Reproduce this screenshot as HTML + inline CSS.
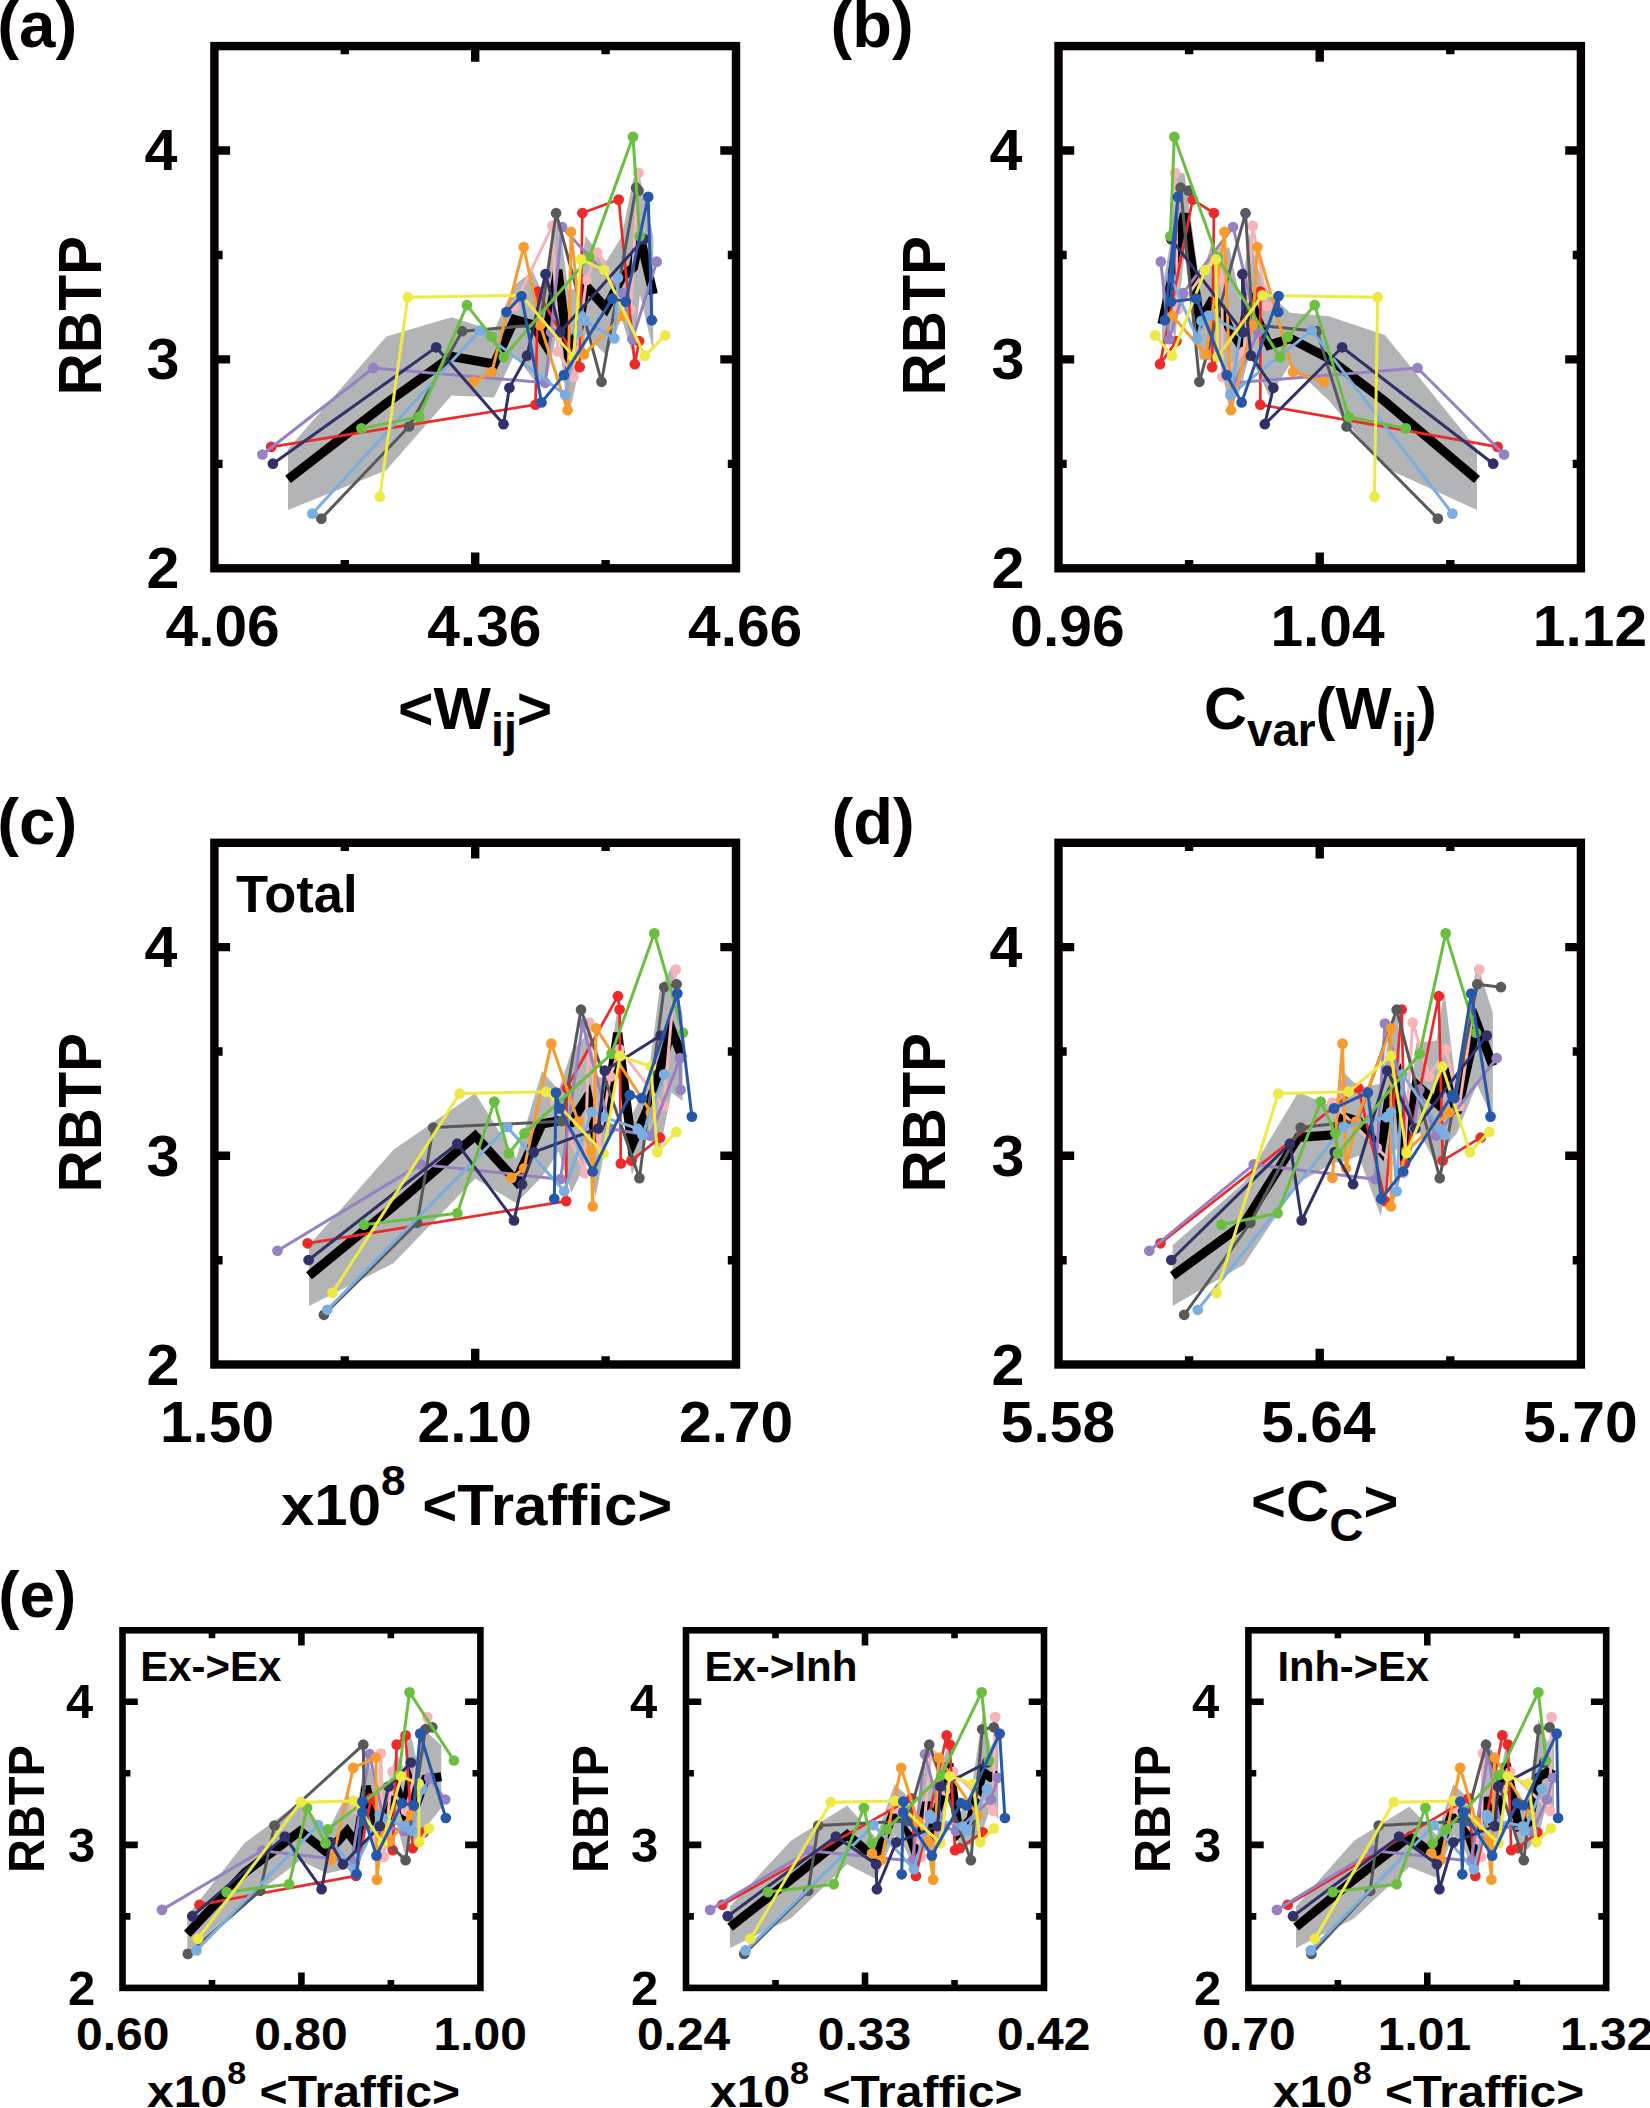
<!DOCTYPE html>
<html lang="en"><head><meta charset="utf-8"><title>RBTP figure</title>
<style>html,body{margin:0;padding:0;background:#fff}svg{display:block}text{font-family:"Liberation Sans",Arial,Helvetica,sans-serif;font-weight:700;fill:#040000}</style>
</head><body>
<svg width="1650" height="2108" viewBox="0 0 1650 2108">
<rect width="1650" height="2108" fill="#fff"/>
<g id="p_a">
<polygon points="288,449 386.3,336.4 451.6,317.3 494.1,330.7 514.6,284.7 532.8,270.9 544.7,298 557.8,210.8 568.3,290.2 578.5,288.3 585.4,236 606,261.5 621.6,236.8 633.4,178.4 639.9,177.5 653.3,236.2 653.3,351.7 639.9,294.5 633.4,356.7 621.6,318.6 606,355.2 585.4,334.2 578.5,372.2 568.3,417.4 557.8,329.1 544.7,388.7 532.8,378.6 514.6,354.2 494.1,397.6 451.6,395.5 386.3,470.2 288,509.9" fill="#b3b4b6"/>
<polyline points="288,479.4 386.3,403.3 451.6,356.4 494.1,364.1 514.6,319.5 532.8,324.7 544.7,343.4 557.8,269.9 568.3,353.8 578.5,330.3 585.4,285.1 606,308.3 621.6,277.7 633.4,267.5 639.9,236 653.3,294" fill="none" stroke="#040000" stroke-width="9.2" stroke-linejoin="miter" stroke-miterlimit="4"/>
<g fill="#f7b3b8" stroke="#f7b3b8">
<polyline points="514,306.2 552.4,225.9 557.9,351.5 573.6,377 586.4,280 597.3,252.7 630.6,309.7 638.5,172.9" fill="none" stroke-width="3.0" stroke-linejoin="round"/>
<circle cx="514" cy="306.2" r="5.35" stroke="none"/><circle cx="552.4" cy="225.9" r="5.35" stroke="none"/><circle cx="557.9" cy="351.5" r="5.35" stroke="none"/><circle cx="573.6" cy="377" r="5.35" stroke="none"/><circle cx="586.4" cy="280" r="5.35" stroke="none"/><circle cx="597.3" cy="252.7" r="5.35" stroke="none"/><circle cx="630.6" cy="309.7" r="5.35" stroke="none"/><circle cx="638.5" cy="172.9" r="5.35" stroke="none"/>
</g>
<g fill="#ed2a2a" stroke="#ed2a2a">
<polyline points="271.2,446.9 535.5,404.7 537.9,291.5 579.7,367.1 582.4,213 618.7,199.6 634.8,364.2 639.1,341.2" fill="none" stroke-width="2.7" stroke-linejoin="round"/>
<circle cx="271.2" cy="446.9" r="5.35" stroke="none"/><circle cx="535.5" cy="404.7" r="5.35" stroke="none"/><circle cx="537.9" cy="291.5" r="5.35" stroke="none"/><circle cx="579.7" cy="367.1" r="5.35" stroke="none"/><circle cx="582.4" cy="213" r="5.35" stroke="none"/><circle cx="618.7" cy="199.6" r="5.35" stroke="none"/><circle cx="634.8" cy="364.2" r="5.35" stroke="none"/><circle cx="639.1" cy="341.2" r="5.35" stroke="none"/>
</g>
<g fill="#9682c2" stroke="#9682c2">
<polyline points="262.4,454.5 373.4,368 545.2,382.8 551,332.3 562.1,227 622.7,293.2 632.4,339.2 656.7,261.7" fill="none" stroke-width="3.0" stroke-linejoin="round"/>
<circle cx="262.4" cy="454.5" r="5.35" stroke="none"/><circle cx="373.4" cy="368" r="5.35" stroke="none"/><circle cx="545.2" cy="382.8" r="5.35" stroke="none"/><circle cx="551" cy="332.3" r="5.35" stroke="none"/><circle cx="562.1" cy="227" r="5.35" stroke="none"/><circle cx="622.7" cy="293.2" r="5.35" stroke="none"/><circle cx="632.4" cy="339.2" r="5.35" stroke="none"/><circle cx="656.7" cy="261.7" r="5.35" stroke="none"/>
</g>
<g fill="#58595b" stroke="#58595b">
<polyline points="321.3,518.6 409,426.5 462.1,331.2 540,324.7 556.1,213.2 601.5,381.8 636.1,187.7 638.5,190.6" fill="none" stroke-width="3.0" stroke-linejoin="round"/>
<circle cx="321.3" cy="518.6" r="5.35" stroke="none"/><circle cx="409" cy="426.5" r="5.35" stroke="none"/><circle cx="462.1" cy="331.2" r="5.35" stroke="none"/><circle cx="540" cy="324.7" r="5.35" stroke="none"/><circle cx="556.1" cy="213.2" r="5.35" stroke="none"/><circle cx="601.5" cy="381.8" r="5.35" stroke="none"/><circle cx="636.1" cy="187.7" r="5.35" stroke="none"/><circle cx="638.5" cy="190.6" r="5.35" stroke="none"/>
</g>
<g fill="#f89b2e" stroke="#f89b2e">
<polyline points="473.7,381.6 491.8,372 523.7,247 540.3,325.2 567.6,410.2 571,231.8 583.9,354.4 622.7,316" fill="none" stroke-width="3.0" stroke-linejoin="round"/>
<circle cx="473.7" cy="381.6" r="5.35" stroke="none"/><circle cx="491.8" cy="372" r="5.35" stroke="none"/><circle cx="523.7" cy="247" r="5.35" stroke="none"/><circle cx="540.3" cy="325.2" r="5.35" stroke="none"/><circle cx="567.6" cy="410.2" r="5.35" stroke="none"/><circle cx="571" cy="231.8" r="5.35" stroke="none"/><circle cx="583.9" cy="354.4" r="5.35" stroke="none"/><circle cx="622.7" cy="316" r="5.35" stroke="none"/>
</g>
<g fill="#7aaee0" stroke="#7aaee0">
<polyline points="312.4,513.6 479.9,330.6 565.2,394.9 577.4,332.3 580.8,315.6 584.7,320.8 614.4,338.5 618,278" fill="none" stroke-width="3.0" stroke-linejoin="round"/>
<circle cx="312.4" cy="513.6" r="5.35" stroke="none"/><circle cx="479.9" cy="330.6" r="5.35" stroke="none"/><circle cx="565.2" cy="394.9" r="5.35" stroke="none"/><circle cx="577.4" cy="332.3" r="5.35" stroke="none"/><circle cx="580.8" cy="315.6" r="5.35" stroke="none"/><circle cx="584.7" cy="320.8" r="5.35" stroke="none"/><circle cx="614.4" cy="338.5" r="5.35" stroke="none"/><circle cx="618" cy="278" r="5.35" stroke="none"/>
</g>
<g fill="#303267" stroke="#303267">
<polyline points="272.9,463.7 436.2,347.3 503.5,424.2 509.4,387.8 527,355.7 545.5,274.2 560.3,332.1 643.8,239.1" fill="none" stroke-width="3.0" stroke-linejoin="round"/>
<circle cx="272.9" cy="463.7" r="5.35" stroke="none"/><circle cx="436.2" cy="347.3" r="5.35" stroke="none"/><circle cx="503.5" cy="424.2" r="5.35" stroke="none"/><circle cx="509.4" cy="387.8" r="5.35" stroke="none"/><circle cx="527" cy="355.7" r="5.35" stroke="none"/><circle cx="545.5" cy="274.2" r="5.35" stroke="none"/><circle cx="560.3" cy="332.1" r="5.35" stroke="none"/><circle cx="643.8" cy="239.1" r="5.35" stroke="none"/>
</g>
<g fill="#6abf40" stroke="#6abf40">
<polyline points="361.5,428.4 419.2,416.9 466.9,305.1 491.8,336.9 503.7,357.1 589.4,257.3 633,136.8 639.7,236.2" fill="none" stroke-width="3.0" stroke-linejoin="round"/>
<circle cx="361.5" cy="428.4" r="5.35" stroke="none"/><circle cx="419.2" cy="416.9" r="5.35" stroke="none"/><circle cx="466.9" cy="305.1" r="5.35" stroke="none"/><circle cx="491.8" cy="336.9" r="5.35" stroke="none"/><circle cx="503.7" cy="357.1" r="5.35" stroke="none"/><circle cx="589.4" cy="257.3" r="5.35" stroke="none"/><circle cx="633" cy="136.8" r="5.35" stroke="none"/><circle cx="639.7" cy="236.2" r="5.35" stroke="none"/>
</g>
<g fill="#eeea45" stroke="#eeea45">
<polyline points="379.8,496.7 407.8,297.2 521.5,295.3 573.6,356.9 580.9,259.4 604.3,270 644.8,355.7 665.2,335.4" fill="none" stroke-width="3.0" stroke-linejoin="round"/>
<circle cx="379.8" cy="496.7" r="5.35" stroke="none"/><circle cx="407.8" cy="297.2" r="5.35" stroke="none"/><circle cx="521.5" cy="295.3" r="5.35" stroke="none"/><circle cx="573.6" cy="356.9" r="5.35" stroke="none"/><circle cx="580.9" cy="259.4" r="5.35" stroke="none"/><circle cx="604.3" cy="270" r="5.35" stroke="none"/><circle cx="644.8" cy="355.7" r="5.35" stroke="none"/><circle cx="665.2" cy="335.4" r="5.35" stroke="none"/>
</g>
<g fill="#2657a8" stroke="#2657a8">
<polyline points="506.4,312 521.5,296.1 541.5,402.4 563.9,375.1 612.4,298.6 625.8,301.8 648.2,196.9 651.8,320.2" fill="none" stroke-width="3.0" stroke-linejoin="round"/>
<circle cx="506.4" cy="312" r="5.35" stroke="none"/><circle cx="521.5" cy="296.1" r="5.35" stroke="none"/><circle cx="541.5" cy="402.4" r="5.35" stroke="none"/><circle cx="563.9" cy="375.1" r="5.35" stroke="none"/><circle cx="612.4" cy="298.6" r="5.35" stroke="none"/><circle cx="625.8" cy="301.8" r="5.35" stroke="none"/><circle cx="648.2" cy="196.9" r="5.35" stroke="none"/><circle cx="651.8" cy="320.2" r="5.35" stroke="none"/>
</g>
<rect x="214.4" y="46.1" width="521.6" height="522.2" fill="none" stroke="#040000" stroke-width="8.4"/>
<path d="M344.8 46.1v8.2M344.8 568.3v-8.2M475.2 46.1v15.7M475.2 568.3v-15.7M605.6 46.1v8.2M605.6 568.3v-8.2M214.4 463.9h8.2M736 463.9h-8.2M214.4 359.4h15.7M736 359.4h-15.7M214.4 255h8.2M736 255h-8.2M214.4 150.5h15.7M736 150.5h-15.7" stroke="#040000" stroke-width="8.4" fill="none"/>
</g>
<g id="p_b">
<polygon points="1162,289.8 1171.1,237.9 1175.2,171.8 1184.5,173.6 1199.9,284.3 1211.3,243.7 1219.4,252.8 1229.1,246.7 1240.4,299.9 1249.2,232.2 1257.8,268.2 1269.2,293.8 1290.2,312.7 1328.8,316.2 1384.9,335 1477,449 1477,509.9 1384.9,467.8 1328.8,400.5 1290.2,364.3 1269.2,396.4 1257.8,372.1 1249.2,356.2 1240.4,389.6 1229.1,408.9 1219.4,356.8 1211.3,360.1 1199.9,359.6 1184.5,253.6 1175.2,338.8 1171.1,326.3 1162,358.4" fill="#b3b4b6"/>
<polyline points="1162,324.1 1171.1,282.1 1175.2,255.3 1184.5,213.6 1199.9,321.9 1211.3,301.9 1219.4,304.8 1229.1,327.8 1240.4,344.8 1249.2,294.2 1257.8,320.2 1269.2,345.1 1290.2,338.5 1328.8,358.3 1384.9,401.4 1477,479.4" fill="none" stroke="#040000" stroke-width="9.2" stroke-linejoin="miter" stroke-miterlimit="4"/>
<g fill="#f7b3b8" stroke="#f7b3b8">
<polyline points="1267.3,306.2 1252.7,225.9 1244,351.5 1222.4,377 1222,280 1218,252.7 1177.6,309.7 1175.2,172.9" fill="none" stroke-width="3.0" stroke-linejoin="round"/>
<circle cx="1267.3" cy="306.2" r="5.35" stroke="none"/><circle cx="1252.7" cy="225.9" r="5.35" stroke="none"/><circle cx="1244" cy="351.5" r="5.35" stroke="none"/><circle cx="1222.4" cy="377" r="5.35" stroke="none"/><circle cx="1222" cy="280" r="5.35" stroke="none"/><circle cx="1218" cy="252.7" r="5.35" stroke="none"/><circle cx="1177.6" cy="309.7" r="5.35" stroke="none"/><circle cx="1175.2" cy="172.9" r="5.35" stroke="none"/>
</g>
<g fill="#ed2a2a" stroke="#ed2a2a">
<polyline points="1497.6,446.9 1260.3,404.7 1260.4,291.5 1212.1,367.1 1213.9,213 1192.7,199.6 1160,364.2 1176.4,341.2" fill="none" stroke-width="2.7" stroke-linejoin="round"/>
<circle cx="1497.6" cy="446.9" r="5.35" stroke="none"/><circle cx="1260.3" cy="404.7" r="5.35" stroke="none"/><circle cx="1260.4" cy="291.5" r="5.35" stroke="none"/><circle cx="1212.1" cy="367.1" r="5.35" stroke="none"/><circle cx="1213.9" cy="213" r="5.35" stroke="none"/><circle cx="1192.7" cy="199.6" r="5.35" stroke="none"/><circle cx="1160" cy="364.2" r="5.35" stroke="none"/><circle cx="1176.4" cy="341.2" r="5.35" stroke="none"/>
</g>
<g fill="#9682c2" stroke="#9682c2">
<polyline points="1504,454.5 1417.5,368 1234.5,382.8 1258.2,332.3 1233.1,227 1183,293.2 1169.1,339.2 1160.8,261.7" fill="none" stroke-width="3.0" stroke-linejoin="round"/>
<circle cx="1504" cy="454.5" r="5.35" stroke="none"/><circle cx="1417.5" cy="368" r="5.35" stroke="none"/><circle cx="1234.5" cy="382.8" r="5.35" stroke="none"/><circle cx="1258.2" cy="332.3" r="5.35" stroke="none"/><circle cx="1233.1" cy="227" r="5.35" stroke="none"/><circle cx="1183" cy="293.2" r="5.35" stroke="none"/><circle cx="1169.1" cy="339.2" r="5.35" stroke="none"/><circle cx="1160.8" cy="261.7" r="5.35" stroke="none"/>
</g>
<g fill="#58595b" stroke="#58595b">
<polyline points="1437.8,518.6 1346.5,426.5 1317,331.2 1252.7,324.7 1245.5,213.2 1199.4,381.8 1180.6,187.7 1188.5,190.6" fill="none" stroke-width="3.0" stroke-linejoin="round"/>
<circle cx="1437.8" cy="518.6" r="5.35" stroke="none"/><circle cx="1346.5" cy="426.5" r="5.35" stroke="none"/><circle cx="1317" cy="331.2" r="5.35" stroke="none"/><circle cx="1252.7" cy="324.7" r="5.35" stroke="none"/><circle cx="1245.5" cy="213.2" r="5.35" stroke="none"/><circle cx="1199.4" cy="381.8" r="5.35" stroke="none"/><circle cx="1180.6" cy="187.7" r="5.35" stroke="none"/><circle cx="1188.5" cy="190.6" r="5.35" stroke="none"/>
</g>
<g fill="#f89b2e" stroke="#f89b2e">
<polyline points="1323.8,381.6 1293.1,372 1257.3,247 1252.7,325.2 1230.9,410.2 1224.5,231.8 1206.1,354.4 1172.5,316" fill="none" stroke-width="3.0" stroke-linejoin="round"/>
<circle cx="1323.8" cy="381.6" r="5.35" stroke="none"/><circle cx="1293.1" cy="372" r="5.35" stroke="none"/><circle cx="1257.3" cy="247" r="5.35" stroke="none"/><circle cx="1252.7" cy="325.2" r="5.35" stroke="none"/><circle cx="1230.9" cy="410.2" r="5.35" stroke="none"/><circle cx="1224.5" cy="231.8" r="5.35" stroke="none"/><circle cx="1206.1" cy="354.4" r="5.35" stroke="none"/><circle cx="1172.5" cy="316" r="5.35" stroke="none"/>
</g>
<g fill="#7aaee0" stroke="#7aaee0">
<polyline points="1452.4,513.6 1311.8,330.6 1230.3,394.9 1240.7,332.3 1208.6,315.6 1201.4,320.8 1197.2,338.5 1170.9,278" fill="none" stroke-width="3.0" stroke-linejoin="round"/>
<circle cx="1452.4" cy="513.6" r="5.35" stroke="none"/><circle cx="1311.8" cy="330.6" r="5.35" stroke="none"/><circle cx="1230.3" cy="394.9" r="5.35" stroke="none"/><circle cx="1240.7" cy="332.3" r="5.35" stroke="none"/><circle cx="1208.6" cy="315.6" r="5.35" stroke="none"/><circle cx="1201.4" cy="320.8" r="5.35" stroke="none"/><circle cx="1197.2" cy="338.5" r="5.35" stroke="none"/><circle cx="1170.9" cy="278" r="5.35" stroke="none"/>
</g>
<g fill="#303267" stroke="#303267">
<polyline points="1493.2,463.7 1342.1,347.3 1264.8,424.2 1273.4,387.8 1250.9,355.7 1242.4,274.2 1243,332.1 1171.2,239.1" fill="none" stroke-width="3.0" stroke-linejoin="round"/>
<circle cx="1493.2" cy="463.7" r="5.35" stroke="none"/><circle cx="1342.1" cy="347.3" r="5.35" stroke="none"/><circle cx="1264.8" cy="424.2" r="5.35" stroke="none"/><circle cx="1273.4" cy="387.8" r="5.35" stroke="none"/><circle cx="1250.9" cy="355.7" r="5.35" stroke="none"/><circle cx="1242.4" cy="274.2" r="5.35" stroke="none"/><circle cx="1243" cy="332.1" r="5.35" stroke="none"/><circle cx="1171.2" cy="239.1" r="5.35" stroke="none"/>
</g>
<g fill="#6abf40" stroke="#6abf40">
<polyline points="1405.9,428.4 1348.9,416.9 1314.7,305.1 1287.7,336.9 1280,357.1 1217.2,257.3 1174.3,136.8 1170.3,236.2" fill="none" stroke-width="3.0" stroke-linejoin="round"/>
<circle cx="1405.9" cy="428.4" r="5.35" stroke="none"/><circle cx="1348.9" cy="416.9" r="5.35" stroke="none"/><circle cx="1314.7" cy="305.1" r="5.35" stroke="none"/><circle cx="1287.7" cy="336.9" r="5.35" stroke="none"/><circle cx="1280" cy="357.1" r="5.35" stroke="none"/><circle cx="1217.2" cy="257.3" r="5.35" stroke="none"/><circle cx="1174.3" cy="136.8" r="5.35" stroke="none"/><circle cx="1170.3" cy="236.2" r="5.35" stroke="none"/>
</g>
<g fill="#eeea45" stroke="#eeea45">
<polyline points="1374.4,496.7 1377.7,297.2 1262.4,295.3 1217.6,356.9 1215.8,259.4 1205.3,270 1172.1,355.7 1155.2,335.4" fill="none" stroke-width="3.0" stroke-linejoin="round"/>
<circle cx="1374.4" cy="496.7" r="5.35" stroke="none"/><circle cx="1377.7" cy="297.2" r="5.35" stroke="none"/><circle cx="1262.4" cy="295.3" r="5.35" stroke="none"/><circle cx="1217.6" cy="356.9" r="5.35" stroke="none"/><circle cx="1215.8" cy="259.4" r="5.35" stroke="none"/><circle cx="1205.3" cy="270" r="5.35" stroke="none"/><circle cx="1172.1" cy="355.7" r="5.35" stroke="none"/><circle cx="1155.2" cy="335.4" r="5.35" stroke="none"/>
</g>
<g fill="#2657a8" stroke="#2657a8">
<polyline points="1278.2,312 1278.5,296.1 1241.6,402.4 1226.7,375.1 1196.4,298.6 1170.9,301.8 1177.9,196.9 1164.8,320.2" fill="none" stroke-width="3.0" stroke-linejoin="round"/>
<circle cx="1278.2" cy="312" r="5.35" stroke="none"/><circle cx="1278.5" cy="296.1" r="5.35" stroke="none"/><circle cx="1241.6" cy="402.4" r="5.35" stroke="none"/><circle cx="1226.7" cy="375.1" r="5.35" stroke="none"/><circle cx="1196.4" cy="298.6" r="5.35" stroke="none"/><circle cx="1170.9" cy="301.8" r="5.35" stroke="none"/><circle cx="1177.9" cy="196.9" r="5.35" stroke="none"/><circle cx="1164.8" cy="320.2" r="5.35" stroke="none"/>
</g>
<rect x="1058.5" y="46.1" width="522.4" height="522.2" fill="none" stroke="#040000" stroke-width="8.4"/>
<path d="M1189.1 46.1v8.2M1189.1 568.3v-8.2M1319.7 46.1v15.7M1319.7 568.3v-15.7M1450.3 46.1v8.2M1450.3 568.3v-8.2M1058.5 463.9h8.2M1580.9 463.9h-8.2M1058.5 359.4h15.7M1580.9 359.4h-15.7M1058.5 255h8.2M1580.9 255h-8.2M1058.5 150.5h15.7M1580.9 150.5h-15.7" stroke="#040000" stroke-width="8.4" fill="none"/>
</g>
<g id="p_c">
<polygon points="309,1245.3 393.5,1149.8 475.2,1093.2 516.1,1158.6 542,1071 558.6,1090.2 571.3,1051.9 587.8,1033.3 595.6,1076.5 606.5,1077.8 617.7,1007.9 631.8,1115.4 647.3,1083.8 659.2,992.4 671.4,966.3 682.6,1015.1 682.6,1101.1 671.4,1092.6 659.2,1153.5 647.3,1135.3 631.8,1175 617.7,1057.9 606.5,1140.7 595.6,1196.6 587.8,1159.5 571.3,1192.8 558.6,1151.4 542,1176.8 516.1,1203.2 475.2,1178.4 393.5,1263.2 309,1306.1" fill="#b3b4b6"/>
<polyline points="309,1275.7 393.5,1206.5 475.2,1135.8 516.1,1180.9 542,1123.9 558.6,1120.8 571.3,1122.3 587.8,1096.4 595.6,1136.5 606.5,1109.3 617.7,1032.9 631.8,1145.2 647.3,1109.5 659.2,1073 671.4,1029.4 682.6,1058.1" fill="none" stroke="#040000" stroke-width="9.2" stroke-linejoin="miter" stroke-miterlimit="4"/>
<g fill="#f7b3b8" stroke="#f7b3b8">
<polyline points="555.2,1102.6 584.8,1173.3 589.3,1022.5 598.2,1147.9 610.3,1076.5 619.4,1049.2 663.6,1106.2 675.8,969.5" fill="none" stroke-width="3.0" stroke-linejoin="round"/>
<circle cx="555.2" cy="1102.6" r="5.35" stroke="none"/><circle cx="584.8" cy="1173.3" r="5.35" stroke="none"/><circle cx="589.3" cy="1022.5" r="5.35" stroke="none"/><circle cx="598.2" cy="1147.9" r="5.35" stroke="none"/><circle cx="610.3" cy="1076.5" r="5.35" stroke="none"/><circle cx="619.4" cy="1049.2" r="5.35" stroke="none"/><circle cx="663.6" cy="1106.2" r="5.35" stroke="none"/><circle cx="675.8" cy="969.5" r="5.35" stroke="none"/>
</g>
<g fill="#ed2a2a" stroke="#ed2a2a">
<polyline points="307.6,1243.3 566.2,1201.1 566.7,1088 617.9,996.2 619.6,1009.5 620.8,1163.5 631.5,1160.6 660,1137.7" fill="none" stroke-width="2.7" stroke-linejoin="round"/>
<circle cx="307.6" cy="1243.3" r="5.35" stroke="none"/><circle cx="566.2" cy="1201.1" r="5.35" stroke="none"/><circle cx="566.7" cy="1088" r="5.35" stroke="none"/><circle cx="617.9" cy="996.2" r="5.35" stroke="none"/><circle cx="619.6" cy="1009.5" r="5.35" stroke="none"/><circle cx="620.8" cy="1163.5" r="5.35" stroke="none"/><circle cx="631.5" cy="1160.6" r="5.35" stroke="none"/><circle cx="660" cy="1137.7" r="5.35" stroke="none"/>
</g>
<g fill="#9682c2" stroke="#9682c2">
<polyline points="277.4,1250.8 420.6,1164.4 560.6,1179.2 582.5,1023.5 610.3,1128.7 650.3,1135.6 680,1058.2 680.6,1089.7" fill="none" stroke-width="3.0" stroke-linejoin="round"/>
<circle cx="277.4" cy="1250.8" r="5.35" stroke="none"/><circle cx="420.6" cy="1164.4" r="5.35" stroke="none"/><circle cx="560.6" cy="1179.2" r="5.35" stroke="none"/><circle cx="582.5" cy="1023.5" r="5.35" stroke="none"/><circle cx="610.3" cy="1128.7" r="5.35" stroke="none"/><circle cx="650.3" cy="1135.6" r="5.35" stroke="none"/><circle cx="680" cy="1058.2" r="5.35" stroke="none"/><circle cx="680.6" cy="1089.7" r="5.35" stroke="none"/>
</g>
<g fill="#58595b" stroke="#58595b">
<polyline points="323.9,1314.8 417.2,1222.8 433.2,1127.6 561.8,1121.2 581,1009.7 639.4,1178.1 664.2,987.2 676.6,984.3" fill="none" stroke-width="3.0" stroke-linejoin="round"/>
<circle cx="323.9" cy="1314.8" r="5.35" stroke="none"/><circle cx="417.2" cy="1222.8" r="5.35" stroke="none"/><circle cx="433.2" cy="1127.6" r="5.35" stroke="none"/><circle cx="561.8" cy="1121.2" r="5.35" stroke="none"/><circle cx="581" cy="1009.7" r="5.35" stroke="none"/><circle cx="639.4" cy="1178.1" r="5.35" stroke="none"/><circle cx="664.2" cy="987.2" r="5.35" stroke="none"/><circle cx="676.6" cy="984.3" r="5.35" stroke="none"/>
</g>
<g fill="#f89b2e" stroke="#f89b2e">
<polyline points="511.5,1177.9 524.2,1168.3 551.3,1043.6 578.2,1121.6 590.9,1150.8 592.7,1206.5 596.1,1028.3 650.9,1112.4" fill="none" stroke-width="3.0" stroke-linejoin="round"/>
<circle cx="511.5" cy="1177.9" r="5.35" stroke="none"/><circle cx="524.2" cy="1168.3" r="5.35" stroke="none"/><circle cx="551.3" cy="1043.6" r="5.35" stroke="none"/><circle cx="578.2" cy="1121.6" r="5.35" stroke="none"/><circle cx="590.9" cy="1150.8" r="5.35" stroke="none"/><circle cx="592.7" cy="1206.5" r="5.35" stroke="none"/><circle cx="596.1" cy="1028.3" r="5.35" stroke="none"/><circle cx="650.9" cy="1112.4" r="5.35" stroke="none"/>
</g>
<g fill="#7aaee0" stroke="#7aaee0">
<polyline points="327.3,1309.8 507.2,1127 564.2,1191.3 591.5,1112 603.6,1117.2 637.6,1128.7 642.4,1135 664.2,1074.4" fill="none" stroke-width="3.0" stroke-linejoin="round"/>
<circle cx="327.3" cy="1309.8" r="5.35" stroke="none"/><circle cx="507.2" cy="1127" r="5.35" stroke="none"/><circle cx="564.2" cy="1191.3" r="5.35" stroke="none"/><circle cx="591.5" cy="1112" r="5.35" stroke="none"/><circle cx="603.6" cy="1117.2" r="5.35" stroke="none"/><circle cx="637.6" cy="1128.7" r="5.35" stroke="none"/><circle cx="642.4" cy="1135" r="5.35" stroke="none"/><circle cx="664.2" cy="1074.4" r="5.35" stroke="none"/>
</g>
<g fill="#303267" stroke="#303267">
<polyline points="308.6,1260 457.3,1143.7 514,1220.5 522,1184.2 533.8,1152.1 598.2,1128.5 604.8,1070.7 660.6,1035.6" fill="none" stroke-width="3.0" stroke-linejoin="round"/>
<circle cx="308.6" cy="1260" r="5.35" stroke="none"/><circle cx="457.3" cy="1143.7" r="5.35" stroke="none"/><circle cx="514" cy="1220.5" r="5.35" stroke="none"/><circle cx="522" cy="1184.2" r="5.35" stroke="none"/><circle cx="533.8" cy="1152.1" r="5.35" stroke="none"/><circle cx="598.2" cy="1128.5" r="5.35" stroke="none"/><circle cx="604.8" cy="1070.7" r="5.35" stroke="none"/><circle cx="660.6" cy="1035.6" r="5.35" stroke="none"/>
</g>
<g fill="#6abf40" stroke="#6abf40">
<polyline points="364,1224.7 457.3,1213.2 494.3,1101.6 508.9,1153.5 524.5,1133.3 611.5,1053.8 654.3,933.4 683,1032.7" fill="none" stroke-width="3.0" stroke-linejoin="round"/>
<circle cx="364" cy="1224.7" r="5.35" stroke="none"/><circle cx="457.3" cy="1213.2" r="5.35" stroke="none"/><circle cx="494.3" cy="1101.6" r="5.35" stroke="none"/><circle cx="508.9" cy="1153.5" r="5.35" stroke="none"/><circle cx="524.5" cy="1133.3" r="5.35" stroke="none"/><circle cx="611.5" cy="1053.8" r="5.35" stroke="none"/><circle cx="654.3" cy="933.4" r="5.35" stroke="none"/><circle cx="683" cy="1032.7" r="5.35" stroke="none"/>
</g>
<g fill="#eeea45" stroke="#eeea45">
<polyline points="332.4,1292.9 459.7,1093.6 546,1091.8 603.6,1153.3 620,1055.9 650.9,1066.5 657.3,1152.1 676.4,1131.8" fill="none" stroke-width="3.0" stroke-linejoin="round"/>
<circle cx="332.4" cy="1292.9" r="5.35" stroke="none"/><circle cx="459.7" cy="1093.6" r="5.35" stroke="none"/><circle cx="546" cy="1091.8" r="5.35" stroke="none"/><circle cx="603.6" cy="1153.3" r="5.35" stroke="none"/><circle cx="620" cy="1055.9" r="5.35" stroke="none"/><circle cx="650.9" cy="1066.5" r="5.35" stroke="none"/><circle cx="657.3" cy="1152.1" r="5.35" stroke="none"/><circle cx="676.4" cy="1131.8" r="5.35" stroke="none"/>
</g>
<g fill="#2657a8" stroke="#2657a8">
<polyline points="554.3,1198.8 556,1092.6 559.6,1108.4 592.7,1171.5 629.7,1095.1 641.8,1098.2 677.3,993.5 691.9,1116.6" fill="none" stroke-width="3.0" stroke-linejoin="round"/>
<circle cx="554.3" cy="1198.8" r="5.35" stroke="none"/><circle cx="556" cy="1092.6" r="5.35" stroke="none"/><circle cx="559.6" cy="1108.4" r="5.35" stroke="none"/><circle cx="592.7" cy="1171.5" r="5.35" stroke="none"/><circle cx="629.7" cy="1095.1" r="5.35" stroke="none"/><circle cx="641.8" cy="1098.2" r="5.35" stroke="none"/><circle cx="677.3" cy="993.5" r="5.35" stroke="none"/><circle cx="691.9" cy="1116.6" r="5.35" stroke="none"/>
</g>
<rect x="214.4" y="842.8" width="521.6" height="521.7" fill="none" stroke="#040000" stroke-width="8.4"/>
<path d="M344.8 842.8v8.2M344.8 1364.5v-8.2M475.2 842.8v15.7M475.2 1364.5v-15.7M605.6 842.8v8.2M605.6 1364.5v-8.2M214.4 1260.2h8.2M736 1260.2h-8.2M214.4 1155.8h15.7M736 1155.8h-15.7M214.4 1051.5h8.2M736 1051.5h-8.2M214.4 947.1h15.7M736 947.1h-15.7" stroke="#040000" stroke-width="8.4" fill="none"/>
</g>
<g id="p_d">
<polygon points="1172.6,1245.3 1244,1182.6 1298.3,1092.2 1333.7,1107 1343.7,1071.9 1358.5,1087.2 1380.7,1084 1389.4,1033.3 1397.7,1011.1 1404.9,1153.3 1416.2,1042.9 1436.7,1040.6 1444.2,989.5 1456.9,1092.2 1476.9,962.7 1492.8,1012.8 1492.8,1119 1476.9,1084.3 1456.9,1133.3 1444.2,1148.3 1436.7,1165.4 1416.2,1126.3 1404.9,1171.7 1397.7,1147.7 1389.4,1158.2 1380.7,1216.2 1358.5,1155.8 1343.7,1161.8 1333.7,1162.8 1298.3,1182.7 1244,1264.6 1172.6,1306.1" fill="#b3b4b6"/>
<polyline points="1172.6,1275.7 1244,1223.6 1298.3,1137.4 1333.7,1134.9 1343.7,1116.8 1358.5,1121.5 1380.7,1150.1 1389.4,1095.7 1397.7,1079.4 1404.9,1162.5 1416.2,1084.6 1436.7,1103 1444.2,1068.9 1456.9,1112.8 1476.9,1023.5 1492.8,1065.9" fill="none" stroke="#040000" stroke-width="9.2" stroke-linejoin="miter" stroke-miterlimit="4"/>
<g fill="#f7b3b8" stroke="#f7b3b8">
<polyline points="1332.3,1102.6 1376.7,1147.9 1403.3,1173.3 1412.7,1022.5 1429.1,1076.5 1445.7,1049.2 1459.3,1106.2 1479.3,969.5" fill="none" stroke-width="3.0" stroke-linejoin="round"/>
<circle cx="1332.3" cy="1102.6" r="5.35" stroke="none"/><circle cx="1376.7" cy="1147.9" r="5.35" stroke="none"/><circle cx="1403.3" cy="1173.3" r="5.35" stroke="none"/><circle cx="1412.7" cy="1022.5" r="5.35" stroke="none"/><circle cx="1429.1" cy="1076.5" r="5.35" stroke="none"/><circle cx="1445.7" cy="1049.2" r="5.35" stroke="none"/><circle cx="1459.3" cy="1106.2" r="5.35" stroke="none"/><circle cx="1479.3" cy="969.5" r="5.35" stroke="none"/>
</g>
<g fill="#ed2a2a" stroke="#ed2a2a">
<polyline points="1160.5,1243.3 1358.2,1088 1385.3,1201.1 1401.7,1009.5 1405,1163.5 1438.7,996.2 1442.7,1160.6 1480.7,1137.7" fill="none" stroke-width="2.7" stroke-linejoin="round"/>
<circle cx="1160.5" cy="1243.3" r="5.35" stroke="none"/><circle cx="1358.2" cy="1088" r="5.35" stroke="none"/><circle cx="1385.3" cy="1201.1" r="5.35" stroke="none"/><circle cx="1401.7" cy="1009.5" r="5.35" stroke="none"/><circle cx="1405" cy="1163.5" r="5.35" stroke="none"/><circle cx="1438.7" cy="996.2" r="5.35" stroke="none"/><circle cx="1442.7" cy="1160.6" r="5.35" stroke="none"/><circle cx="1480.7" cy="1137.7" r="5.35" stroke="none"/>
</g>
<g fill="#9682c2" stroke="#9682c2">
<polyline points="1149.3,1250.8 1253.8,1164.4 1375.3,1179.2 1384.9,1023.5 1414,1128.7 1419.3,1089.7 1436,1135.6 1496.7,1058.2" fill="none" stroke-width="3.0" stroke-linejoin="round"/>
<circle cx="1149.3" cy="1250.8" r="5.35" stroke="none"/><circle cx="1253.8" cy="1164.4" r="5.35" stroke="none"/><circle cx="1375.3" cy="1179.2" r="5.35" stroke="none"/><circle cx="1384.9" cy="1023.5" r="5.35" stroke="none"/><circle cx="1414" cy="1128.7" r="5.35" stroke="none"/><circle cx="1419.3" cy="1089.7" r="5.35" stroke="none"/><circle cx="1436" cy="1135.6" r="5.35" stroke="none"/><circle cx="1496.7" cy="1058.2" r="5.35" stroke="none"/>
</g>
<g fill="#58595b" stroke="#58595b">
<polyline points="1184.2,1314.8 1250.4,1222.8 1300.7,1127.6 1357,1121.2 1396.7,1009.7 1439.7,1178.1 1477.3,984.3 1500.9,987.2" fill="none" stroke-width="3.0" stroke-linejoin="round"/>
<circle cx="1184.2" cy="1314.8" r="5.35" stroke="none"/><circle cx="1250.4" cy="1222.8" r="5.35" stroke="none"/><circle cx="1300.7" cy="1127.6" r="5.35" stroke="none"/><circle cx="1357" cy="1121.2" r="5.35" stroke="none"/><circle cx="1396.7" cy="1009.7" r="5.35" stroke="none"/><circle cx="1439.7" cy="1178.1" r="5.35" stroke="none"/><circle cx="1477.3" cy="984.3" r="5.35" stroke="none"/><circle cx="1500.9" cy="987.2" r="5.35" stroke="none"/>
</g>
<g fill="#f89b2e" stroke="#f89b2e">
<polyline points="1332.4,1177.9 1342.5,1043.6 1346,1168.3 1356.2,1121.6 1390.9,1028.3 1390.9,1206.5 1406.5,1150.8 1448.7,1112.4" fill="none" stroke-width="3.0" stroke-linejoin="round"/>
<circle cx="1332.4" cy="1177.9" r="5.35" stroke="none"/><circle cx="1342.5" cy="1043.6" r="5.35" stroke="none"/><circle cx="1346" cy="1168.3" r="5.35" stroke="none"/><circle cx="1356.2" cy="1121.6" r="5.35" stroke="none"/><circle cx="1390.9" cy="1028.3" r="5.35" stroke="none"/><circle cx="1390.9" cy="1206.5" r="5.35" stroke="none"/><circle cx="1406.5" cy="1150.8" r="5.35" stroke="none"/><circle cx="1448.7" cy="1112.4" r="5.35" stroke="none"/>
</g>
<g fill="#7aaee0" stroke="#7aaee0">
<polyline points="1197.8,1309.8 1343.5,1127 1386.6,1117.2 1391.1,1112 1396.7,1191.3 1402.5,1074.4 1440,1128.7 1444.8,1135" fill="none" stroke-width="3.0" stroke-linejoin="round"/>
<circle cx="1197.8" cy="1309.8" r="5.35" stroke="none"/><circle cx="1343.5" cy="1127" r="5.35" stroke="none"/><circle cx="1386.6" cy="1117.2" r="5.35" stroke="none"/><circle cx="1391.1" cy="1112" r="5.35" stroke="none"/><circle cx="1396.7" cy="1191.3" r="5.35" stroke="none"/><circle cx="1402.5" cy="1074.4" r="5.35" stroke="none"/><circle cx="1440" cy="1128.7" r="5.35" stroke="none"/><circle cx="1444.8" cy="1135" r="5.35" stroke="none"/>
</g>
<g fill="#303267" stroke="#303267">
<polyline points="1171.3,1260 1290,1143.7 1301.7,1220.5 1334.7,1152.1 1353.1,1184.2 1387.3,1070.7 1415.3,1128.5 1486.7,1035.6" fill="none" stroke-width="3.0" stroke-linejoin="round"/>
<circle cx="1171.3" cy="1260" r="5.35" stroke="none"/><circle cx="1290" cy="1143.7" r="5.35" stroke="none"/><circle cx="1301.7" cy="1220.5" r="5.35" stroke="none"/><circle cx="1334.7" cy="1152.1" r="5.35" stroke="none"/><circle cx="1353.1" cy="1184.2" r="5.35" stroke="none"/><circle cx="1387.3" cy="1070.7" r="5.35" stroke="none"/><circle cx="1415.3" cy="1128.5" r="5.35" stroke="none"/><circle cx="1486.7" cy="1035.6" r="5.35" stroke="none"/>
</g>
<g fill="#6abf40" stroke="#6abf40">
<polyline points="1221.6,1224.7 1277.6,1213.2 1320.8,1101.6 1335.3,1133.3 1338,1153.5 1419.6,1053.8 1445.7,933.4 1476,1032.7" fill="none" stroke-width="3.0" stroke-linejoin="round"/>
<circle cx="1221.6" cy="1224.7" r="5.35" stroke="none"/><circle cx="1277.6" cy="1213.2" r="5.35" stroke="none"/><circle cx="1320.8" cy="1101.6" r="5.35" stroke="none"/><circle cx="1335.3" cy="1133.3" r="5.35" stroke="none"/><circle cx="1338" cy="1153.5" r="5.35" stroke="none"/><circle cx="1419.6" cy="1053.8" r="5.35" stroke="none"/><circle cx="1445.7" cy="933.4" r="5.35" stroke="none"/><circle cx="1476" cy="1032.7" r="5.35" stroke="none"/>
</g>
<g fill="#eeea45" stroke="#eeea45">
<polyline points="1216.5,1292.9 1278.2,1093.6 1348.7,1091.8 1391.1,1055.9 1406.7,1153.3 1442.3,1066.5 1470,1152.1 1489.2,1131.8" fill="none" stroke-width="3.0" stroke-linejoin="round"/>
<circle cx="1216.5" cy="1292.9" r="5.35" stroke="none"/><circle cx="1278.2" cy="1093.6" r="5.35" stroke="none"/><circle cx="1348.7" cy="1091.8" r="5.35" stroke="none"/><circle cx="1391.1" cy="1055.9" r="5.35" stroke="none"/><circle cx="1406.7" cy="1153.3" r="5.35" stroke="none"/><circle cx="1442.3" cy="1066.5" r="5.35" stroke="none"/><circle cx="1470" cy="1152.1" r="5.35" stroke="none"/><circle cx="1489.2" cy="1131.8" r="5.35" stroke="none"/>
</g>
<g fill="#2657a8" stroke="#2657a8">
<polyline points="1334,1108.4 1367.8,1092.6 1381.3,1198.8 1403.1,1171.5 1452.3,1095.1 1454.3,1098.2 1471.3,993.5 1490.5,1116.6" fill="none" stroke-width="3.0" stroke-linejoin="round"/>
<circle cx="1334" cy="1108.4" r="5.35" stroke="none"/><circle cx="1367.8" cy="1092.6" r="5.35" stroke="none"/><circle cx="1381.3" cy="1198.8" r="5.35" stroke="none"/><circle cx="1403.1" cy="1171.5" r="5.35" stroke="none"/><circle cx="1452.3" cy="1095.1" r="5.35" stroke="none"/><circle cx="1454.3" cy="1098.2" r="5.35" stroke="none"/><circle cx="1471.3" cy="993.5" r="5.35" stroke="none"/><circle cx="1490.5" cy="1116.6" r="5.35" stroke="none"/>
</g>
<rect x="1058.5" y="842.8" width="522.4" height="521.7" fill="none" stroke="#040000" stroke-width="8.4"/>
<path d="M1189.1 842.8v8.2M1189.1 1364.5v-8.2M1319.7 842.8v15.7M1319.7 1364.5v-15.7M1450.3 842.8v8.2M1450.3 1364.5v-8.2M1058.5 1260.2h8.2M1580.9 1260.2h-8.2M1058.5 1155.8h15.7M1580.9 1155.8h-15.7M1058.5 1051.5h8.2M1580.9 1051.5h-8.2M1058.5 947.1h15.7M1580.9 947.1h-15.7" stroke="#040000" stroke-width="8.4" fill="none"/>
</g>
<g id="p_e1">
<polygon points="187.3,1916.1 244.6,1843 300,1801.9 327.3,1832.2 347.1,1793.6 356.7,1809.1 366.1,1755.2 377.4,1787.7 381.9,1781.8 387.8,1784.2 396.4,1752.5 404.3,1769.2 409.8,1731.9 416.9,1760.7 425.5,1730.9 441.3,1745.2 441.3,1808 425.5,1827.6 416.9,1844.5 409.8,1832.7 404.3,1853.2 396.4,1822.1 387.8,1849 381.9,1843.2 377.4,1871.1 366.1,1817.1 356.7,1879.7 347.1,1868.4 327.3,1873.5 300,1860.4 244.6,1902.6 187.3,1951.6" fill="#b3b4b6"/>
<polyline points="187.3,1933.9 244.6,1872.8 300,1831.2 327.3,1852.8 347.1,1831 356.7,1844.4 366.1,1786.2 377.4,1829.4 381.9,1812.5 387.8,1816.6 396.4,1787.3 404.3,1811.2 409.8,1782.3 416.9,1802.6 425.5,1779.3 441.3,1776.6" fill="none" stroke="#040000" stroke-width="9.0" stroke-linejoin="miter" stroke-miterlimit="4"/>
<g fill="#f7b3b8" stroke="#f7b3b8">
<polyline points="353.6,1808.4 377.9,1839.4 380.8,1753.5 383.7,1856.9 392.4,1771.8 392.4,1790.5 406,1810.8 427.3,1717.1" fill="none" stroke-width="3.0" stroke-linejoin="round"/>
<circle cx="353.6" cy="1808.4" r="5.35" stroke="none"/><circle cx="377.9" cy="1839.4" r="5.35" stroke="none"/><circle cx="380.8" cy="1753.5" r="5.35" stroke="none"/><circle cx="383.7" cy="1856.9" r="5.35" stroke="none"/><circle cx="392.4" cy="1771.8" r="5.35" stroke="none"/><circle cx="392.4" cy="1790.5" r="5.35" stroke="none"/><circle cx="406" cy="1810.8" r="5.35" stroke="none"/><circle cx="427.3" cy="1717.1" r="5.35" stroke="none"/>
</g>
<g fill="#ed2a2a" stroke="#ed2a2a">
<polyline points="199.5,1904.8 356,1875.9 371,1798.4 392.8,1850.2 396.7,1744.6 405.6,1735.4 412.8,1848.1 423.5,1832.4" fill="none" stroke-width="2.7" stroke-linejoin="round"/>
<circle cx="199.5" cy="1904.8" r="5.35" stroke="none"/><circle cx="356" cy="1875.9" r="5.35" stroke="none"/><circle cx="371" cy="1798.4" r="5.35" stroke="none"/><circle cx="392.8" cy="1850.2" r="5.35" stroke="none"/><circle cx="396.7" cy="1744.6" r="5.35" stroke="none"/><circle cx="405.6" cy="1735.4" r="5.35" stroke="none"/><circle cx="412.8" cy="1848.1" r="5.35" stroke="none"/><circle cx="423.5" cy="1832.4" r="5.35" stroke="none"/>
</g>
<g fill="#9682c2" stroke="#9682c2">
<polyline points="162,1909.9 262.1,1850.7 351.7,1860.9 369.6,1754.2 385,1826.3 404.1,1831 429.3,1777.9 445.2,1799.5" fill="none" stroke-width="3.0" stroke-linejoin="round"/>
<circle cx="162" cy="1909.9" r="5.35" stroke="none"/><circle cx="262.1" cy="1850.7" r="5.35" stroke="none"/><circle cx="351.7" cy="1860.9" r="5.35" stroke="none"/><circle cx="369.6" cy="1754.2" r="5.35" stroke="none"/><circle cx="385" cy="1826.3" r="5.35" stroke="none"/><circle cx="404.1" cy="1831" r="5.35" stroke="none"/><circle cx="429.3" cy="1777.9" r="5.35" stroke="none"/><circle cx="445.2" cy="1799.5" r="5.35" stroke="none"/>
</g>
<g fill="#58595b" stroke="#58595b">
<polyline points="187.8,1953.9 260.2,1890.8 274.5,1825.5 363.3,1744.7 364.3,1821.1 405.6,1860.2 425.4,1729.3 432.2,1727.3" fill="none" stroke-width="3.0" stroke-linejoin="round"/>
<circle cx="187.8" cy="1953.9" r="5.35" stroke="none"/><circle cx="260.2" cy="1890.8" r="5.35" stroke="none"/><circle cx="274.5" cy="1825.5" r="5.35" stroke="none"/><circle cx="363.3" cy="1744.7" r="5.35" stroke="none"/><circle cx="364.3" cy="1821.1" r="5.35" stroke="none"/><circle cx="405.6" cy="1860.2" r="5.35" stroke="none"/><circle cx="425.4" cy="1729.3" r="5.35" stroke="none"/><circle cx="432.2" cy="1727.3" r="5.35" stroke="none"/>
</g>
<g fill="#f89b2e" stroke="#f89b2e">
<polyline points="331,1860 334,1853.4 353.3,1767.9 375.9,1757.5 376.9,1879.6 383,1821.4 389.5,1841.4 410.9,1815.1" fill="none" stroke-width="3.0" stroke-linejoin="round"/>
<circle cx="331" cy="1860" r="5.35" stroke="none"/><circle cx="334" cy="1853.4" r="5.35" stroke="none"/><circle cx="353.3" cy="1767.9" r="5.35" stroke="none"/><circle cx="375.9" cy="1757.5" r="5.35" stroke="none"/><circle cx="376.9" cy="1879.6" r="5.35" stroke="none"/><circle cx="383" cy="1821.4" r="5.35" stroke="none"/><circle cx="389.5" cy="1841.4" r="5.35" stroke="none"/><circle cx="410.9" cy="1815.1" r="5.35" stroke="none"/>
</g>
<g fill="#7aaee0" stroke="#7aaee0">
<polyline points="196.5,1950.4 318.3,1825.1 354.3,1869.2 379.8,1814.8 383,1818.4 404.1,1826.3 411.8,1830.6 422.5,1789.1" fill="none" stroke-width="3.0" stroke-linejoin="round"/>
<circle cx="196.5" cy="1950.4" r="5.35" stroke="none"/><circle cx="318.3" cy="1825.1" r="5.35" stroke="none"/><circle cx="354.3" cy="1869.2" r="5.35" stroke="none"/><circle cx="379.8" cy="1814.8" r="5.35" stroke="none"/><circle cx="383" cy="1818.4" r="5.35" stroke="none"/><circle cx="404.1" cy="1826.3" r="5.35" stroke="none"/><circle cx="411.8" cy="1830.6" r="5.35" stroke="none"/><circle cx="422.5" cy="1789.1" r="5.35" stroke="none"/>
</g>
<g fill="#303267" stroke="#303267">
<polyline points="192.3,1916.2 284.8,1836.6 321.6,1889.2 330.4,1842.3 343,1864.3 379.8,1826.1 388.6,1786.5 410.9,1762.5" fill="none" stroke-width="3.0" stroke-linejoin="round"/>
<circle cx="192.3" cy="1916.2" r="5.35" stroke="none"/><circle cx="284.8" cy="1836.6" r="5.35" stroke="none"/><circle cx="321.6" cy="1889.2" r="5.35" stroke="none"/><circle cx="330.4" cy="1842.3" r="5.35" stroke="none"/><circle cx="343" cy="1864.3" r="5.35" stroke="none"/><circle cx="379.8" cy="1826.1" r="5.35" stroke="none"/><circle cx="388.6" cy="1786.5" r="5.35" stroke="none"/><circle cx="410.9" cy="1762.5" r="5.35" stroke="none"/>
</g>
<g fill="#6abf40" stroke="#6abf40">
<polyline points="226.6,1892.1 289.1,1884.2 307.1,1807.7 325.5,1843.3 328,1829.4 398.8,1774.9 409.5,1692.4 453.9,1760.5" fill="none" stroke-width="3.0" stroke-linejoin="round"/>
<circle cx="226.6" cy="1892.1" r="5.35" stroke="none"/><circle cx="289.1" cy="1884.2" r="5.35" stroke="none"/><circle cx="307.1" cy="1807.7" r="5.35" stroke="none"/><circle cx="325.5" cy="1843.3" r="5.35" stroke="none"/><circle cx="328" cy="1829.4" r="5.35" stroke="none"/><circle cx="398.8" cy="1774.9" r="5.35" stroke="none"/><circle cx="409.5" cy="1692.4" r="5.35" stroke="none"/><circle cx="453.9" cy="1760.5" r="5.35" stroke="none"/>
</g>
<g fill="#eeea45" stroke="#eeea45">
<polyline points="197.9,1938.8 300.9,1802.2 354,1800.9 382.7,1843.1 401.2,1776.3 418.6,1783.6 419.2,1842.3 428.9,1828.4" fill="none" stroke-width="3.0" stroke-linejoin="round"/>
<circle cx="197.9" cy="1938.8" r="5.35" stroke="none"/><circle cx="300.9" cy="1802.2" r="5.35" stroke="none"/><circle cx="354" cy="1800.9" r="5.35" stroke="none"/><circle cx="382.7" cy="1843.1" r="5.35" stroke="none"/><circle cx="401.2" cy="1776.3" r="5.35" stroke="none"/><circle cx="418.6" cy="1783.6" r="5.35" stroke="none"/><circle cx="419.2" cy="1842.3" r="5.35" stroke="none"/><circle cx="428.9" cy="1828.4" r="5.35" stroke="none"/>
</g>
<g fill="#2657a8" stroke="#2657a8">
<polyline points="356.6,1874.3 362.4,1801.5 362.4,1812.4 376.5,1855.6 402.1,1803.2 413.8,1805.4 420.2,1733.6 445.8,1818" fill="none" stroke-width="3.0" stroke-linejoin="round"/>
<circle cx="356.6" cy="1874.3" r="5.35" stroke="none"/><circle cx="362.4" cy="1801.5" r="5.35" stroke="none"/><circle cx="362.4" cy="1812.4" r="5.35" stroke="none"/><circle cx="376.5" cy="1855.6" r="5.35" stroke="none"/><circle cx="402.1" cy="1803.2" r="5.35" stroke="none"/><circle cx="413.8" cy="1805.4" r="5.35" stroke="none"/><circle cx="420.2" cy="1733.6" r="5.35" stroke="none"/><circle cx="445.8" cy="1818" r="5.35" stroke="none"/>
</g>
<rect x="122.5" y="1630.3" width="357.9" height="357.6" fill="none" stroke="#040000" stroke-width="6.6"/>
<path d="M212 1630.3v7.9M212 1987.9v-7.9M301.4 1630.3v15.3M301.4 1987.9v-15.3M390.9 1630.3v7.9M390.9 1987.9v-7.9M122.5 1916.4h7.9M480.4 1916.4h-7.9M122.5 1844.9h15.3M480.4 1844.9h-15.3M122.5 1773.3h7.9M480.4 1773.3h-7.9M122.5 1701.8h15.3M480.4 1701.8h-15.3" stroke="#040000" stroke-width="6.6" fill="none"/>
</g>
<g id="p_e2">
<polygon points="730,1906.2 790.9,1840.7 847.2,1805.4 876,1837.8 894.6,1784.2 905.4,1793.9 915.9,1833.2 926.6,1757 932.8,1784 941,1765.6 948.9,1743.2 958.9,1814.7 970.9,1793.4 982.8,1713.7 990.7,1747.3 998.2,1730.8 998.2,1819.2 990.7,1807.6 982.8,1829.8 970.9,1844.6 958.9,1848.8 948.9,1784.3 941,1829.7 932.8,1869.2 926.6,1847.8 915.9,1873.5 905.4,1849.1 894.6,1835.4 876,1879 847.2,1864.2 790.9,1918.4 730,1947.9" fill="#b3b4b6"/>
<polyline points="730,1927.1 790.9,1879.6 847.2,1834.8 876,1858.4 894.6,1809.8 905.4,1821.5 915.9,1853.4 926.6,1802.4 932.8,1826.6 941,1797.7 948.9,1763.7 958.9,1831.8 970.9,1819 982.8,1771.8 990.7,1777.4 998.2,1775" fill="none" stroke="#040000" stroke-width="9.0" stroke-linejoin="miter" stroke-miterlimit="4"/>
<g fill="#f7b3b8" stroke="#f7b3b8">
<polyline points="894,1808.4 919.2,1839.4 921.1,1856.9 930.8,1753.5 945.3,1790.5 953.1,1771.8 992.9,1810.8 995.2,1717.1" fill="none" stroke-width="3.0" stroke-linejoin="round"/>
<circle cx="894" cy="1808.4" r="5.35" stroke="none"/><circle cx="919.2" cy="1839.4" r="5.35" stroke="none"/><circle cx="921.1" cy="1856.9" r="5.35" stroke="none"/><circle cx="930.8" cy="1753.5" r="5.35" stroke="none"/><circle cx="945.3" cy="1790.5" r="5.35" stroke="none"/><circle cx="953.1" cy="1771.8" r="5.35" stroke="none"/><circle cx="992.9" cy="1810.8" r="5.35" stroke="none"/><circle cx="995.2" cy="1717.1" r="5.35" stroke="none"/>
</g>
<g fill="#ed2a2a" stroke="#ed2a2a">
<polyline points="722.3,1904.8 911.4,1798.4 915.9,1875.9 946.7,1735.4 949.8,1744.6 955,1850.2 959.9,1848.1 982.8,1832.4" fill="none" stroke-width="2.7" stroke-linejoin="round"/>
<circle cx="722.3" cy="1904.8" r="5.35" stroke="none"/><circle cx="911.4" cy="1798.4" r="5.35" stroke="none"/><circle cx="915.9" cy="1875.9" r="5.35" stroke="none"/><circle cx="946.7" cy="1735.4" r="5.35" stroke="none"/><circle cx="949.8" cy="1744.6" r="5.35" stroke="none"/><circle cx="955" cy="1850.2" r="5.35" stroke="none"/><circle cx="959.9" cy="1848.1" r="5.35" stroke="none"/><circle cx="982.8" cy="1832.4" r="5.35" stroke="none"/>
</g>
<g fill="#9682c2" stroke="#9682c2">
<polyline points="710.1,1909.9 809.6,1850.7 912.4,1860.9 925,1754.2 943.4,1826.3 956,1831 990.9,1799.5 997.7,1777.9" fill="none" stroke-width="3.0" stroke-linejoin="round"/>
<circle cx="710.1" cy="1909.9" r="5.35" stroke="none"/><circle cx="809.6" cy="1850.7" r="5.35" stroke="none"/><circle cx="912.4" cy="1860.9" r="5.35" stroke="none"/><circle cx="925" cy="1754.2" r="5.35" stroke="none"/><circle cx="943.4" cy="1826.3" r="5.35" stroke="none"/><circle cx="956" cy="1831" r="5.35" stroke="none"/><circle cx="990.9" cy="1799.5" r="5.35" stroke="none"/><circle cx="997.7" cy="1777.9" r="5.35" stroke="none"/>
</g>
<g fill="#58595b" stroke="#58595b">
<polyline points="744.2,1953.9 808.2,1890.8 818.3,1825.5 907.5,1821.1 929.2,1744.7 970.9,1860.2 982.2,1729.3 993.8,1727.3" fill="none" stroke-width="3.0" stroke-linejoin="round"/>
<circle cx="744.2" cy="1953.9" r="5.35" stroke="none"/><circle cx="808.2" cy="1890.8" r="5.35" stroke="none"/><circle cx="818.3" cy="1825.5" r="5.35" stroke="none"/><circle cx="907.5" cy="1821.1" r="5.35" stroke="none"/><circle cx="929.2" cy="1744.7" r="5.35" stroke="none"/><circle cx="970.9" cy="1860.2" r="5.35" stroke="none"/><circle cx="982.2" cy="1729.3" r="5.35" stroke="none"/><circle cx="993.8" cy="1727.3" r="5.35" stroke="none"/>
</g>
<g fill="#f89b2e" stroke="#f89b2e">
<polyline points="872,1853.4 881.3,1860 901.1,1767.9 918,1821.4 927.9,1841.4 933.1,1879.6 938.9,1757.5 977.3,1815.1" fill="none" stroke-width="3.0" stroke-linejoin="round"/>
<circle cx="872" cy="1853.4" r="5.35" stroke="none"/><circle cx="881.3" cy="1860" r="5.35" stroke="none"/><circle cx="901.1" cy="1767.9" r="5.35" stroke="none"/><circle cx="918" cy="1821.4" r="5.35" stroke="none"/><circle cx="927.9" cy="1841.4" r="5.35" stroke="none"/><circle cx="933.1" cy="1879.6" r="5.35" stroke="none"/><circle cx="938.9" cy="1757.5" r="5.35" stroke="none"/><circle cx="977.3" cy="1815.1" r="5.35" stroke="none"/>
</g>
<g fill="#7aaee0" stroke="#7aaee0">
<polyline points="745.6,1950.4 873.6,1825.1 913.9,1869.2 929.8,1814.8 930.8,1818.4 962.8,1826.3 966.7,1830.6 987,1789.1" fill="none" stroke-width="3.0" stroke-linejoin="round"/>
<circle cx="745.6" cy="1950.4" r="5.35" stroke="none"/><circle cx="873.6" cy="1825.1" r="5.35" stroke="none"/><circle cx="913.9" cy="1869.2" r="5.35" stroke="none"/><circle cx="929.8" cy="1814.8" r="5.35" stroke="none"/><circle cx="930.8" cy="1818.4" r="5.35" stroke="none"/><circle cx="962.8" cy="1826.3" r="5.35" stroke="none"/><circle cx="966.7" cy="1830.6" r="5.35" stroke="none"/><circle cx="987" cy="1789.1" r="5.35" stroke="none"/>
</g>
<g fill="#303267" stroke="#303267">
<polyline points="727.7,1916.2 835.8,1836.6 876.1,1864.3 876.9,1889.2 896.3,1842.3 937.6,1826.1 940.5,1786.5 987,1762.5" fill="none" stroke-width="3.0" stroke-linejoin="round"/>
<circle cx="727.7" cy="1916.2" r="5.35" stroke="none"/><circle cx="835.8" cy="1836.6" r="5.35" stroke="none"/><circle cx="876.1" cy="1864.3" r="5.35" stroke="none"/><circle cx="876.9" cy="1889.2" r="5.35" stroke="none"/><circle cx="896.3" cy="1842.3" r="5.35" stroke="none"/><circle cx="937.6" cy="1826.1" r="5.35" stroke="none"/><circle cx="940.5" cy="1786.5" r="5.35" stroke="none"/><circle cx="987" cy="1762.5" r="5.35" stroke="none"/>
</g>
<g fill="#6abf40" stroke="#6abf40">
<polyline points="767.9,1892.1 833.8,1884.2 863.9,1807.7 871.6,1843.3 886.6,1829.4 941.5,1774.9 981.6,1692.4 989,1760.5" fill="none" stroke-width="3.0" stroke-linejoin="round"/>
<circle cx="767.9" cy="1892.1" r="5.35" stroke="none"/><circle cx="833.8" cy="1884.2" r="5.35" stroke="none"/><circle cx="863.9" cy="1807.7" r="5.35" stroke="none"/><circle cx="871.6" cy="1843.3" r="5.35" stroke="none"/><circle cx="886.6" cy="1829.4" r="5.35" stroke="none"/><circle cx="941.5" cy="1774.9" r="5.35" stroke="none"/><circle cx="981.6" cy="1692.4" r="5.35" stroke="none"/><circle cx="989" cy="1760.5" r="5.35" stroke="none"/>
</g>
<g fill="#eeea45" stroke="#eeea45">
<polyline points="750.4,1938.8 830.9,1802.2 894.9,1800.9 940.5,1843.1 949.8,1776.3 973.1,1783.6 980.3,1842.3 993.8,1828.4" fill="none" stroke-width="3.0" stroke-linejoin="round"/>
<circle cx="750.4" cy="1938.8" r="5.35" stroke="none"/><circle cx="830.9" cy="1802.2" r="5.35" stroke="none"/><circle cx="894.9" cy="1800.9" r="5.35" stroke="none"/><circle cx="940.5" cy="1843.1" r="5.35" stroke="none"/><circle cx="949.8" cy="1776.3" r="5.35" stroke="none"/><circle cx="973.1" cy="1783.6" r="5.35" stroke="none"/><circle cx="980.3" cy="1842.3" r="5.35" stroke="none"/><circle cx="993.8" cy="1828.4" r="5.35" stroke="none"/>
</g>
<g fill="#2657a8" stroke="#2657a8">
<polyline points="901.7,1874.3 903.3,1801.5 903.3,1812.4 931.8,1855.6 960.9,1803.2 966.7,1805.4 999.6,1733.6 1004.9,1818" fill="none" stroke-width="3.0" stroke-linejoin="round"/>
<circle cx="901.7" cy="1874.3" r="5.35" stroke="none"/><circle cx="903.3" cy="1801.5" r="5.35" stroke="none"/><circle cx="903.3" cy="1812.4" r="5.35" stroke="none"/><circle cx="931.8" cy="1855.6" r="5.35" stroke="none"/><circle cx="960.9" cy="1803.2" r="5.35" stroke="none"/><circle cx="966.7" cy="1805.4" r="5.35" stroke="none"/><circle cx="999.6" cy="1733.6" r="5.35" stroke="none"/><circle cx="1004.9" cy="1818" r="5.35" stroke="none"/>
</g>
<rect x="686" y="1630.3" width="358" height="357.6" fill="none" stroke="#040000" stroke-width="6.6"/>
<path d="M775.5 1630.3v7.9M775.5 1987.9v-7.9M865 1630.3v15.3M865 1987.9v-15.3M954.5 1630.3v7.9M954.5 1987.9v-7.9M686 1916.4h7.9M1044 1916.4h-7.9M686 1844.9h15.3M1044 1844.9h-15.3M686 1773.3h7.9M1044 1773.3h-7.9M686 1701.8h15.3M1044 1701.8h-15.3" stroke="#040000" stroke-width="6.6" fill="none"/>
</g>
<g id="p_e3">
<polygon points="1296,1906.2 1354,1840.7 1409.3,1806.6 1436.7,1834.9 1453.3,1784.2 1464.1,1793.9 1474.9,1833.2 1485,1755.3 1490.8,1765.7 1498.2,1785.3 1506.2,1743.2 1518.5,1806.6 1528,1799.2 1538.5,1718.9 1547.4,1742.2 1554,1730.8 1554,1819.2 1547.4,1802.1 1538.5,1835.3 1528,1849 1518.5,1846.7 1506.2,1784.3 1498.2,1837.5 1490.8,1869.6 1485,1840.1 1474.9,1873.5 1464.1,1849.1 1453.3,1835.4 1436.7,1877.8 1409.3,1867 1354,1918.4 1296,1947.9" fill="#b3b4b6"/>
<polyline points="1296,1927.1 1354,1879.6 1409.3,1836.8 1436.7,1856.4 1453.3,1809.8 1464.1,1821.5 1474.9,1853.4 1485,1797.7 1490.8,1817.7 1498.2,1811.4 1506.2,1763.7 1518.5,1826.6 1528,1824.1 1538.5,1777.1 1547.4,1772.1 1554,1775" fill="none" stroke="#040000" stroke-width="9.0" stroke-linejoin="miter" stroke-miterlimit="4"/>
<g fill="#f7b3b8" stroke="#f7b3b8">
<polyline points="1453,1808.4 1478.2,1839.4 1481.1,1856.9 1483,1753.5 1502.4,1790.5 1510.2,1771.8 1550,1810.8 1551.5,1717.1" fill="none" stroke-width="3.0" stroke-linejoin="round"/>
<circle cx="1453" cy="1808.4" r="5.35" stroke="none"/><circle cx="1478.2" cy="1839.4" r="5.35" stroke="none"/><circle cx="1481.1" cy="1856.9" r="5.35" stroke="none"/><circle cx="1483" cy="1753.5" r="5.35" stroke="none"/><circle cx="1502.4" cy="1790.5" r="5.35" stroke="none"/><circle cx="1510.2" cy="1771.8" r="5.35" stroke="none"/><circle cx="1550" cy="1810.8" r="5.35" stroke="none"/><circle cx="1551.5" cy="1717.1" r="5.35" stroke="none"/>
</g>
<g fill="#ed2a2a" stroke="#ed2a2a">
<polyline points="1287.7,1904.8 1468.5,1798.4 1475.3,1875.9 1502.4,1735.4 1507.9,1744.6 1511.2,1850.2 1518,1848.1 1537.3,1832.4" fill="none" stroke-width="2.7" stroke-linejoin="round"/>
<circle cx="1287.7" cy="1904.8" r="5.35" stroke="none"/><circle cx="1468.5" cy="1798.4" r="5.35" stroke="none"/><circle cx="1475.3" cy="1875.9" r="5.35" stroke="none"/><circle cx="1502.4" cy="1735.4" r="5.35" stroke="none"/><circle cx="1507.9" cy="1744.6" r="5.35" stroke="none"/><circle cx="1511.2" cy="1850.2" r="5.35" stroke="none"/><circle cx="1518" cy="1848.1" r="5.35" stroke="none"/><circle cx="1537.3" cy="1832.4" r="5.35" stroke="none"/>
</g>
<g fill="#9682c2" stroke="#9682c2">
<polyline points="1276.9,1909.9 1373.5,1850.7 1471,1860.9 1488,1754.2 1500.5,1826.3 1532.5,1831 1547,1799.5 1552.9,1777.9" fill="none" stroke-width="3.0" stroke-linejoin="round"/>
<circle cx="1276.9" cy="1909.9" r="5.35" stroke="none"/><circle cx="1373.5" cy="1850.7" r="5.35" stroke="none"/><circle cx="1471" cy="1860.9" r="5.35" stroke="none"/><circle cx="1488" cy="1754.2" r="5.35" stroke="none"/><circle cx="1500.5" cy="1826.3" r="5.35" stroke="none"/><circle cx="1532.5" cy="1831" r="5.35" stroke="none"/><circle cx="1547" cy="1799.5" r="5.35" stroke="none"/><circle cx="1552.9" cy="1777.9" r="5.35" stroke="none"/>
</g>
<g fill="#58595b" stroke="#58595b">
<polyline points="1311.4,1953.9 1370.2,1890.8 1378.7,1825.5 1465.6,1821.1 1486,1744.7 1523.8,1860.2 1538.7,1729.3 1549.6,1727.3" fill="none" stroke-width="3.0" stroke-linejoin="round"/>
<circle cx="1311.4" cy="1953.9" r="5.35" stroke="none"/><circle cx="1370.2" cy="1890.8" r="5.35" stroke="none"/><circle cx="1378.7" cy="1825.5" r="5.35" stroke="none"/><circle cx="1465.6" cy="1821.1" r="5.35" stroke="none"/><circle cx="1486" cy="1744.7" r="5.35" stroke="none"/><circle cx="1523.8" cy="1860.2" r="5.35" stroke="none"/><circle cx="1538.7" cy="1729.3" r="5.35" stroke="none"/><circle cx="1549.6" cy="1727.3" r="5.35" stroke="none"/>
</g>
<g fill="#f89b2e" stroke="#f89b2e">
<polyline points="1431.3,1853.4 1440.8,1860 1460.2,1767.9 1476,1821.4 1487.9,1841.4 1491.4,1879.6 1494.7,1757.5 1530.6,1815.1" fill="none" stroke-width="3.0" stroke-linejoin="round"/>
<circle cx="1431.3" cy="1853.4" r="5.35" stroke="none"/><circle cx="1440.8" cy="1860" r="5.35" stroke="none"/><circle cx="1460.2" cy="1767.9" r="5.35" stroke="none"/><circle cx="1476" cy="1821.4" r="5.35" stroke="none"/><circle cx="1487.9" cy="1841.4" r="5.35" stroke="none"/><circle cx="1491.4" cy="1879.6" r="5.35" stroke="none"/><circle cx="1494.7" cy="1757.5" r="5.35" stroke="none"/><circle cx="1530.6" cy="1815.1" r="5.35" stroke="none"/>
</g>
<g fill="#7aaee0" stroke="#7aaee0">
<polyline points="1310.8,1950.4 1434,1825.1 1473.9,1869.2 1486.9,1814.8 1487.9,1818.4 1522.8,1826.3 1524.7,1830.6 1541.6,1789.1" fill="none" stroke-width="3.0" stroke-linejoin="round"/>
<circle cx="1310.8" cy="1950.4" r="5.35" stroke="none"/><circle cx="1434" cy="1825.1" r="5.35" stroke="none"/><circle cx="1473.9" cy="1869.2" r="5.35" stroke="none"/><circle cx="1486.9" cy="1814.8" r="5.35" stroke="none"/><circle cx="1487.9" cy="1818.4" r="5.35" stroke="none"/><circle cx="1522.8" cy="1826.3" r="5.35" stroke="none"/><circle cx="1524.7" cy="1830.6" r="5.35" stroke="none"/><circle cx="1541.6" cy="1789.1" r="5.35" stroke="none"/>
</g>
<g fill="#303267" stroke="#303267">
<polyline points="1293,1916.2 1399.1,1836.6 1436.9,1864.3 1439.4,1889.2 1453.4,1842.3 1494.7,1826.1 1498.2,1786.5 1544.1,1762.5" fill="none" stroke-width="3.0" stroke-linejoin="round"/>
<circle cx="1293" cy="1916.2" r="5.35" stroke="none"/><circle cx="1399.1" cy="1836.6" r="5.35" stroke="none"/><circle cx="1436.9" cy="1864.3" r="5.35" stroke="none"/><circle cx="1439.4" cy="1889.2" r="5.35" stroke="none"/><circle cx="1453.4" cy="1842.3" r="5.35" stroke="none"/><circle cx="1494.7" cy="1826.1" r="5.35" stroke="none"/><circle cx="1498.2" cy="1786.5" r="5.35" stroke="none"/><circle cx="1544.1" cy="1762.5" r="5.35" stroke="none"/>
</g>
<g fill="#6abf40" stroke="#6abf40">
<polyline points="1332.7,1892.1 1396.7,1884.2 1425.4,1807.7 1432.6,1843.3 1446.2,1829.4 1498.9,1774.9 1538.3,1692.4 1546.1,1760.5" fill="none" stroke-width="3.0" stroke-linejoin="round"/>
<circle cx="1332.7" cy="1892.1" r="5.35" stroke="none"/><circle cx="1396.7" cy="1884.2" r="5.35" stroke="none"/><circle cx="1425.4" cy="1807.7" r="5.35" stroke="none"/><circle cx="1432.6" cy="1843.3" r="5.35" stroke="none"/><circle cx="1446.2" cy="1829.4" r="5.35" stroke="none"/><circle cx="1498.9" cy="1774.9" r="5.35" stroke="none"/><circle cx="1538.3" cy="1692.4" r="5.35" stroke="none"/><circle cx="1546.1" cy="1760.5" r="5.35" stroke="none"/>
</g>
<g fill="#eeea45" stroke="#eeea45">
<polyline points="1314.9,1938.8 1393.8,1802.2 1453.9,1800.9 1498.6,1843.1 1507.9,1776.3 1528.6,1783.6 1536.4,1842.3 1550.9,1828.4" fill="none" stroke-width="3.0" stroke-linejoin="round"/>
<circle cx="1314.9" cy="1938.8" r="5.35" stroke="none"/><circle cx="1393.8" cy="1802.2" r="5.35" stroke="none"/><circle cx="1453.9" cy="1800.9" r="5.35" stroke="none"/><circle cx="1498.6" cy="1843.1" r="5.35" stroke="none"/><circle cx="1507.9" cy="1776.3" r="5.35" stroke="none"/><circle cx="1528.6" cy="1783.6" r="5.35" stroke="none"/><circle cx="1536.4" cy="1842.3" r="5.35" stroke="none"/><circle cx="1550.9" cy="1828.4" r="5.35" stroke="none"/>
</g>
<g fill="#2657a8" stroke="#2657a8">
<polyline points="1460.3,1801.5 1462.3,1874.3 1463.6,1812.4 1492.2,1855.6 1517,1803.2 1523.4,1805.4 1556.7,1733.6 1558.1,1818" fill="none" stroke-width="3.0" stroke-linejoin="round"/>
<circle cx="1460.3" cy="1801.5" r="5.35" stroke="none"/><circle cx="1462.3" cy="1874.3" r="5.35" stroke="none"/><circle cx="1463.6" cy="1812.4" r="5.35" stroke="none"/><circle cx="1492.2" cy="1855.6" r="5.35" stroke="none"/><circle cx="1517" cy="1803.2" r="5.35" stroke="none"/><circle cx="1523.4" cy="1805.4" r="5.35" stroke="none"/><circle cx="1556.7" cy="1733.6" r="5.35" stroke="none"/><circle cx="1558.1" cy="1818" r="5.35" stroke="none"/>
</g>
<rect x="1248.4" y="1630.3" width="357.8" height="357.6" fill="none" stroke="#040000" stroke-width="6.6"/>
<path d="M1337.9 1630.3v7.9M1337.9 1987.9v-7.9M1427.3 1630.3v15.3M1427.3 1987.9v-15.3M1516.8 1630.3v7.9M1516.8 1987.9v-7.9M1248.4 1916.4h7.9M1606.2 1916.4h-7.9M1248.4 1844.9h15.3M1606.2 1844.9h-15.3M1248.4 1773.3h7.9M1606.2 1773.3h-7.9M1248.4 1701.8h15.3M1606.2 1701.8h-15.3" stroke="#040000" stroke-width="6.6" fill="none"/>
</g>
<text transform="translate(-2.8 46.8) scale(1.0073 1)" font-size="65" text-anchor="start">(a)</text>
<text transform="translate(830.6 46.8) scale(0.9994 1)" font-size="65" text-anchor="start">(b)</text>
<text transform="translate(-2.8 843.6) scale(1.0073 1)" font-size="65" text-anchor="start">(c)</text>
<text transform="translate(831.5 843.6) scale(1.002 1)" font-size="65" text-anchor="start">(d)</text>
<text transform="translate(-1.7 1617.3) scale(0.9807 1)" font-size="65" text-anchor="start">(e)</text>
<text transform="translate(144.4 170.2) scale(1.02 1)" font-size="58" text-anchor="start">4</text>
<text transform="translate(146.5 379) scale(1.02 1)" font-size="58" text-anchor="start">3</text>
<text transform="translate(146.5 587.8) scale(1.02 1)" font-size="58" text-anchor="start">2</text>
<text transform="translate(989.4 170.2) scale(1.02 1)" font-size="58" text-anchor="start">4</text>
<text transform="translate(991.5 379) scale(1.02 1)" font-size="58" text-anchor="start">3</text>
<text transform="translate(991.5 587.8) scale(1.02 1)" font-size="58" text-anchor="start">2</text>
<text transform="translate(144.4 966.9) scale(1.02 1)" font-size="58" text-anchor="start">4</text>
<text transform="translate(146.5 1175.7) scale(1.02 1)" font-size="58" text-anchor="start">3</text>
<text transform="translate(146.5 1384.5) scale(1.02 1)" font-size="58" text-anchor="start">2</text>
<text transform="translate(989.4 966.9) scale(1.02 1)" font-size="58" text-anchor="start">4</text>
<text transform="translate(991.5 1175.7) scale(1.02 1)" font-size="58" text-anchor="start">3</text>
<text transform="translate(991.5 1384.5) scale(1.02 1)" font-size="58" text-anchor="start">2</text>
<text transform="translate(65.9 1718.4) scale(1.02 1)" font-size="48" text-anchor="start">4</text>
<text transform="translate(67.9 1861.5) scale(1.02 1)" font-size="48" text-anchor="start">3</text>
<text transform="translate(67.9 2004.6) scale(1.02 1)" font-size="48" text-anchor="start">2</text>
<text transform="translate(629.9 1718.4) scale(1.02 1)" font-size="48" text-anchor="start">4</text>
<text transform="translate(631 1861.5) scale(1.02 1)" font-size="48" text-anchor="start">3</text>
<text transform="translate(631 2004.6) scale(1.02 1)" font-size="48" text-anchor="start">2</text>
<text transform="translate(1191.9 1718.4) scale(1.02 1)" font-size="48" text-anchor="start">4</text>
<text transform="translate(1194 1861.5) scale(1.02 1)" font-size="48" text-anchor="start">3</text>
<text transform="translate(1194 2004.6) scale(1.02 1)" font-size="48" text-anchor="start">2</text>
<text transform="translate(165.5 646.1) scale(1.03 1)" font-size="57" text-anchor="start">4.06</text>
<text transform="translate(427.2 646.1) scale(1.03 1)" font-size="57" text-anchor="start">4.36</text>
<text transform="translate(688 646.1) scale(1.03 1)" font-size="57" text-anchor="start">4.66</text>
<text transform="translate(1010.3 646.1) scale(1.03 1)" font-size="57" text-anchor="start">0.96</text>
<text transform="translate(1270.4 646.1) scale(1.03 1)" font-size="57" text-anchor="start">1.04</text>
<text transform="translate(1532.8 646.1) scale(1.03 1)" font-size="57" text-anchor="start">1.12</text>
<text transform="translate(159.9 1442) scale(1.03 1)" font-size="57" text-anchor="start">1.50</text>
<text transform="translate(417.6 1442) scale(1.03 1)" font-size="57" text-anchor="start">2.10</text>
<text transform="translate(679 1442) scale(1.03 1)" font-size="57" text-anchor="start">2.70</text>
<text transform="translate(1000.8 1442) scale(1.03 1)" font-size="57" text-anchor="start">5.58</text>
<text transform="translate(1261.3 1442) scale(1.03 1)" font-size="57" text-anchor="start">5.64</text>
<text transform="translate(1523.3 1442) scale(1.03 1)" font-size="57" text-anchor="start">5.70</text>
<text transform="translate(76.1 2049.9) scale(1.055 1)" font-size="45.5" text-anchor="start">0.60</text>
<text transform="translate(254.2 2049.9) scale(1.055 1)" font-size="45.5" text-anchor="start">0.80</text>
<text transform="translate(433.6 2049.9) scale(1.055 1)" font-size="45.5" text-anchor="start">1.00</text>
<text transform="translate(636.9 2049.9) scale(1.055 1)" font-size="45.5" text-anchor="start">0.24</text>
<text transform="translate(817.8 2049.9) scale(1.055 1)" font-size="45.5" text-anchor="start">0.33</text>
<text transform="translate(997 2049.9) scale(1.055 1)" font-size="45.5" text-anchor="start">0.42</text>
<text transform="translate(1202.2 2049.9) scale(1.055 1)" font-size="45.5" text-anchor="start">0.70</text>
<text transform="translate(1377.8 2049.9) scale(1.055 1)" font-size="45.5" text-anchor="start">1.01</text>
<text transform="translate(1560.1 2049.9) scale(1.055 1)" font-size="45.5" text-anchor="start">1.32</text>
<text transform="translate(398.1 728.8) scale(1.0132 1)" font-size="60" text-anchor="start">&lt;W<tspan font-size="46" dy="17.5">ij</tspan><tspan dy="-17.5">&gt;</tspan></text>
<text transform="translate(1204.1 728.6) scale(0.9921 1)" font-size="60" text-anchor="start">C<tspan font-size="46" dy="17.5">var</tspan><tspan dy="-17.5">(W</tspan><tspan font-size="46" dy="17.5">ij</tspan><tspan dy="-17.5">)</tspan></text>
<text transform="translate(281 1524.6) scale(1.0524 1)" font-size="57" text-anchor="start">x10<tspan font-size="42" dy="-29.7">8</tspan><tspan dy="29.7"> &lt;Traffic&gt;</tspan></text>
<text transform="translate(1251 1521) scale(1.0314 1)" font-size="58" text-anchor="start">&lt;C<tspan font-size="46" dy="19.5">C</tspan><tspan dy="-19.5">&gt;</tspan></text>
<text transform="translate(147 2106.5) scale(1.0687 1)" font-size="45" text-anchor="start">x10<tspan font-size="32" dy="-23">8</tspan><tspan dy="23"> &lt;Traffic&gt;</tspan></text>
<text transform="translate(710 2106.5) scale(1.0666 1)" font-size="45" text-anchor="start">x10<tspan font-size="32" dy="-23">8</tspan><tspan dy="23"> &lt;Traffic&gt;</tspan></text>
<text transform="translate(1273 2106.5) scale(1.0618 1)" font-size="45" text-anchor="start">x10<tspan font-size="32" dy="-23">8</tspan><tspan dy="23"> &lt;Traffic&gt;</tspan></text>
<text transform="translate(236 911.8) scale(1.0096 1)" font-size="52" text-anchor="start">Total</text>
<text transform="translate(140.3 1680.6) scale(0.9756 1)" font-size="43" text-anchor="start">Ex-&gt;Ex</text>
<text transform="translate(704.4 1680.6) scale(0.9786 1)" font-size="43" text-anchor="start">Ex-&gt;Inh</text>
<text transform="translate(1277.4 1680.6) scale(0.9688 1)" font-size="43" text-anchor="start">Inh-&gt;Ex</text>
<text transform="translate(101.3 395.4) rotate(-90) scale(0.9597 1)" font-size="61" text-anchor="start">RBTP</text>
<text transform="translate(945.3 395.4) rotate(-90) scale(0.9597 1)" font-size="61" text-anchor="start">RBTP</text>
<text transform="translate(101.3 1192.4) rotate(-90) scale(0.9597 1)" font-size="61" text-anchor="start">RBTP</text>
<text transform="translate(945.3 1192.4) rotate(-90) scale(0.9597 1)" font-size="61" text-anchor="start">RBTP</text>
<text transform="translate(44 1872.9) rotate(-90) scale(0.9468 1)" font-size="49.5" text-anchor="start">RBTP</text>
<text transform="translate(607.5 1872.9) rotate(-90) scale(0.9468 1)" font-size="49.5" text-anchor="start">RBTP</text>
<text transform="translate(1170.3 1872.9) rotate(-90) scale(0.9468 1)" font-size="49.5" text-anchor="start">RBTP</text>
</svg></body></html>
